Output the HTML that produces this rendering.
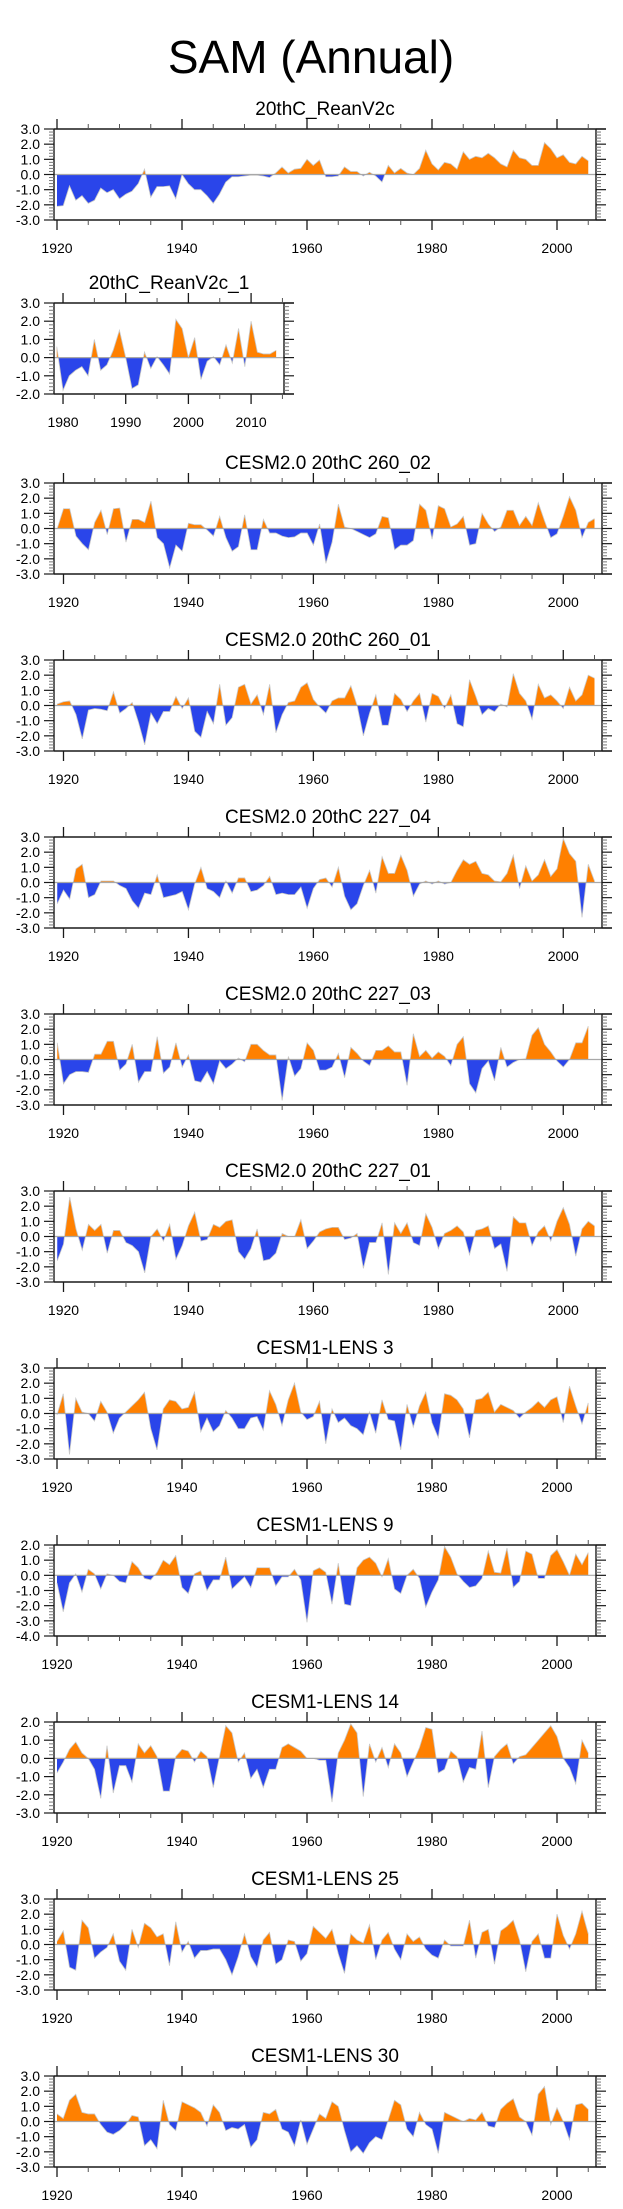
<!DOCTYPE html>
<html><head><meta charset="utf-8"><title>SAM (Annual)</title>
<style>
html,body{margin:0;padding:0;background:#fff;}
svg{display:block;font-family:"Liberation Sans",Arial,sans-serif;}
</style></head>
<body>
<svg id="fig" width="623" height="2209" viewBox="0 0 623 2209" xmlns="http://www.w3.org/2000/svg">
<text x="311" y="73" font-size="46" text-anchor="middle" fill="#000">SAM (Annual)</text>
</svg>
<script>
// ---- data arrays ----
const titles = ["20thC_ReanV2c","20thC_ReanV2c_1","CESM2.0 20thC 260_02","CESM2.0 20thC 260_01","CESM2.0 20thC 227_04","CESM2.0 20thC 227_03","CESM2.0 20thC 227_01","CESM1-LENS 3","CESM1-LENS 9","CESM1-LENS 14","CESM1-LENS 25","CESM1-LENS 30"];
const startYears = [1920,1979,1919,1919,1919,1919,1919,1920,1920,1920,1920,1920];
const yMins = [-3,-2,-3,-3,-3,-3,-3,-3,-4,-3,-3,-3];
const yMaxs = [3,3,3,3,3,3,3,3,2,2,3,3];
const s1 = [-2.1,-2.05,-0.75,-1.7,-1.4,-1.9,-1.7,-0.9,-1.2,-1.0,-1.6,-1.3,-1.1,-0.6,0.35,-1.5,-0.8,-0.8,-0.75,-1.6,0.0,-0.6,-1.0,-1.0,-1.4,-1.9,-1.3,-0.5,-0.15,-0.15,-0.1,-0.05,-0.05,-0.1,-0.2,0.1,0.5,0.1,0.35,0.4,1.0,0.6,0.95,-0.15,-0.15,-0.1,0.5,0.2,0.2,-0.1,0.15,-0.1,-0.5,0.6,0.1,0.4,0.1,0.0,0.4,1.6,0.7,0.3,0.8,0.7,0.35,1.5,1.0,1.2,1.1,1.4,1.1,0.7,0.5,1.6,1.1,1.0,0.6,0.6,2.1,1.7,1.1,1.3,0.8,0.7,1.2,0.9];
const s2 = [0.6,-1.8,-1.0,-0.7,-0.5,-1.0,1.0,-0.7,-0.4,0.4,1.5,0.0,-1.7,-1.5,0.3,-0.6,0.05,-0.4,-0.9,2.1,1.6,0.0,1.1,-1.2,-0.2,0.05,-0.4,0.7,-0.3,1.6,-0.5,2.0,0.3,0.2,0.2,0.4];
const s3 = [0.0,1.3,1.3,-0.5,-1.0,-1.4,0.4,1.2,-0.4,1.3,1.35,-0.9,0.6,0.6,0.4,1.8,-0.6,-1.0,-2.6,-1.1,-1.5,0.35,0.25,0.25,-0.1,-0.5,0.8,-0.6,-1.5,-1.2,0.9,-1.4,-1.4,0.6,-0.3,-0.3,-0.5,-0.6,-0.55,-0.3,-0.3,-1.1,0.3,-2.3,-0.9,1.6,0.1,0.0,-0.2,-0.4,-0.6,-0.35,0.8,0.7,-1.4,-1.1,-1.1,-0.8,1.6,1.2,-0.7,1.5,1.3,0.1,0.3,0.8,-1.1,-1.0,1.0,0.3,-0.2,0.1,1.2,1.2,0.2,0.8,0.2,1.7,0.5,-0.6,-0.35,0.8,2.1,1.2,-0.6,0.4,0.65];
const s4 = [0.1,0.25,0.3,-0.6,-2.2,-0.3,-0.2,-0.25,-0.35,0.9,-0.5,-0.2,0.2,-1.1,-2.6,-0.5,-1.2,-0.4,-0.4,0.6,-0.2,0.5,-1.7,-2.1,-0.4,-1.2,1.4,-1.3,-0.8,1.2,1.4,0.1,0.7,-0.6,1.4,-1.8,-0.6,0.2,0.3,1.2,1.5,0.4,-0.1,-0.5,0.3,0.5,0.5,1.3,0.0,-2.0,-0.5,0.7,-1.3,-1.3,0.8,0.4,-0.4,0.3,0.8,-1.1,0.8,0.6,-0.2,0.7,-1.2,-1.4,1.7,0.6,-0.6,-0.2,-0.4,0.1,-0.1,2.1,0.8,0.3,-0.9,1.4,0.5,0.7,0.3,-0.2,1.2,0.3,0.7,2.0,1.8];
const s5 = [-1.4,-0.5,-1.1,0.9,1.2,-1.0,-0.8,0.1,0.1,0.1,-0.2,-0.4,-1.2,-1.7,-0.7,-0.8,0.5,-1.0,-0.9,-0.8,-0.6,-1.8,-0.1,1.0,-0.4,-0.6,-1.0,0.1,-0.7,0.3,0.3,-0.6,-0.5,-0.2,0.4,-0.8,-0.7,-0.8,-0.8,-0.3,-1.7,-0.4,0.2,0.3,-0.3,1.0,-0.9,-1.8,-1.4,-0.2,0.8,-0.7,1.7,0.6,0.6,1.8,0.8,-0.9,-0.1,0.1,-0.1,0.1,-0.1,0.0,0.8,1.5,1.2,1.4,0.6,0.5,0.1,0.05,0.6,1.8,-0.4,1.1,0.1,0.5,1.5,0.4,0.9,2.9,1.9,1.4,-2.3,1.2,0.1];
const s6 = [1.1,-1.6,-1.0,-0.8,-0.8,-0.85,0.35,0.35,1.2,1.2,-0.7,-0.3,1.0,-1.5,-0.8,-0.8,1.5,-0.9,-0.5,1.1,-0.5,0.3,-1.4,-1.5,-0.8,-1.6,-0.1,-0.6,-0.3,0.1,-0.15,1.0,1.0,0.6,0.3,0.3,-2.7,0.2,-1.1,-0.6,1.1,0.6,-0.7,-0.7,-0.5,0.4,-1.2,0.8,0.4,-0.1,-0.4,0.6,0.6,0.9,0.5,0.5,-1.7,1.7,0.2,0.6,0.1,0.5,0.2,-0.4,1.0,1.5,-1.6,-2.2,-0.6,-0.1,-1.4,0.8,-0.5,-0.2,0.0,0.05,1.6,2.1,1.0,0.5,-0.1,-0.5,0.0,1.1,1.1,2.2];
const s7 = [-1.6,-0.5,2.6,0.5,-0.9,0.8,0.4,0.8,-1.1,0.4,0.4,-0.4,-0.6,-1.0,-2.4,0.0,0.5,-0.3,0.8,-1.5,-0.6,0.7,1.6,-0.3,-0.2,0.8,0.6,1.0,1.1,-1.0,-1.5,-0.8,0.5,-1.6,-1.5,-1.1,0.2,0.0,0.0,1.1,-0.8,-0.3,0.3,0.5,0.6,0.6,-0.2,-0.1,0.2,-2.1,-0.4,-0.4,0.9,-2.5,0.9,0.2,0.9,-0.4,-0.6,1.5,0.6,-0.8,0.2,0.4,0.7,0.3,-1.2,0.4,0.5,0.7,-0.8,-0.5,-2.3,1.3,0.9,0.9,-0.6,0.3,0.7,-0.3,1.0,1.9,0.8,-1.3,0.5,1.0,0.7];
const s8 = [-0.1,1.3,-2.7,1.0,0.1,0.0,-0.5,0.8,0.1,-1.3,-0.3,0.1,0.5,0.9,1.4,-1.0,-2.4,0.3,0.9,0.8,0.3,0.4,1.4,-1.2,-0.3,-1.2,-0.8,0.2,-0.3,-1.0,-1.0,-0.3,-0.2,-1.1,1.5,0.6,-0.8,0.9,2.0,0.1,-0.4,-0.2,0.8,-2.0,0.3,-0.6,-0.3,-0.8,-1.0,-1.4,0.1,-1.3,0.9,-0.4,-0.5,-2.4,0.6,-0.9,0.5,1.4,-0.6,-1.6,1.3,1.2,0.9,0.3,-1.6,0.9,1.0,1.4,0.1,0.6,0.4,0.2,-0.3,0.1,0.4,0.8,0.4,0.9,1.1,-0.6,1.8,0.5,-0.7,0.7];
const s9 = [-0.5,-2.4,-0.5,0.1,-1.1,0.4,0.1,-0.9,0.1,0.0,-0.4,-0.5,0.9,0.5,-0.2,-0.3,0.2,1.0,0.7,1.3,-0.8,-1.2,0.1,0.3,-1.0,-0.3,-0.3,1.2,-0.9,-0.5,-0.1,-0.8,0.5,0.5,0.5,-0.7,-0.1,-0.1,0.4,-0.3,-3.1,0.3,0.5,0.2,-1.9,0.8,-1.9,-2.0,0.5,1.0,1.2,0.8,-0.1,1.1,-0.9,-1.2,0.0,0.4,-0.2,-2.1,-1.1,-0.3,1.9,1.2,0.1,-0.4,-0.8,-0.7,-0.2,1.6,0.2,0.15,1.8,-0.8,-0.4,1.6,1.4,-0.2,-0.2,1.3,1.7,0.9,0.0,1.4,0.7,1.5];
const s10 = [-0.8,-0.2,0.5,0.9,0.3,0.0,-0.6,-2.2,0.7,-1.9,-0.4,-0.4,-1.3,0.8,0.3,0.7,0.1,-1.8,-1.8,0.1,0.5,0.4,-0.2,0.4,0.1,-1.6,0.1,1.8,1.4,-0.2,0.3,-1.1,-0.6,-1.6,-0.6,-0.6,0.6,0.8,0.6,0.4,0.0,0.0,-0.1,-0.1,-2.4,0.3,1.0,1.9,1.4,-2.1,0.8,-0.2,0.6,-0.5,0.8,0.3,-1.0,-0.2,0.6,1.7,1.6,-0.8,-0.6,0.4,0.1,-1.3,-0.5,-0.6,1.5,-1.6,0.1,0.5,0.8,-0.3,0.1,0.2,0.6,1.0,1.4,1.8,1.2,0.0,-0.5,-1.4,1.0,0.3];
const s11 = [0.2,0.9,-1.5,-1.7,1.6,1.1,-0.9,-0.5,-0.2,0.7,-1.1,-1.7,1.0,-0.2,1.4,1.1,0.5,0.7,-1.4,1.5,-0.5,0.2,-0.9,-0.4,-0.4,-0.3,-0.3,-1.0,-2.0,-0.8,0.7,-0.8,-1.5,0.3,0.8,-1.3,-1.0,0.3,0.2,-1.1,-0.6,1.2,0.8,0.4,1.0,-0.6,-1.9,0.7,0.3,0.1,1.3,-1.0,0.3,0.8,-0.3,-1.0,0.7,0.2,0.5,-0.3,-0.7,-0.9,0.3,-0.1,-0.1,-0.1,1.6,-0.9,0.8,1.0,-1.3,0.9,1.2,1.6,0.3,-1.8,0.2,0.7,-0.9,-0.9,2.0,0.6,-0.3,0.7,2.2,0.7];
const s12 = [0.5,0.2,1.4,1.8,0.6,0.5,0.5,-0.2,-0.7,-0.85,-0.6,-0.2,0.4,0.3,-1.6,-1.2,-1.8,1.4,-0.2,-0.6,1.3,1.1,0.9,0.6,-0.3,1.1,0.6,-0.6,-0.4,-0.5,-0.2,-1.7,-1.2,0.6,0.5,0.8,-0.5,-0.7,-1.6,0.1,-1.5,-0.5,0.5,0.2,1.3,1.0,-0.6,-2.0,-1.6,-2.1,-1.4,-1.0,-1.2,0.1,1.4,1.1,-0.5,-1.0,0.6,-0.2,-0.5,-2.1,0.6,0.4,0.2,0.0,0.2,0.1,0.6,-0.3,-0.4,0.8,1.2,1.5,0.3,0.0,-0.9,1.8,2.3,-0.2,0.9,0.0,-1.2,1.1,1.2,0.8];
const series = [s1,s2,s3,s4,s5,s6,s7,s8,s9,s10,s11,s12];

// ---- layout ----
const NS = "http://www.w3.org/2000/svg";
const svg = document.getElementById("fig");
const boxH = 91;
const tops = [129,303,483,660,837,1014,1191,1368,1545,1722,1899,2076];
function mk(tag, attrs, parent){
  const e = document.createElementNS(NS, tag);
  for (const k in attrs) e.setAttribute(k, attrs[k]);
  (parent||svg).appendChild(e);
  return e;
}
function layoutFor(i){
  if (i === 1) return {left:54,right:284,xMin:1978.56,xMax:2015.25,major:10,minor:5};
  if (i >= 2 && i <= 6) return {left:54,right:602,xMin:1918.48,xMax:2006.2,major:20,minor:5};
  return {left:54,right:596,xMin:1919.52,xMax:2006.24,major:20,minor:5};
}
const AX = "#1a1a1a";
series.forEach((vals, i) => {
  const L = layoutFor(i);
  const top = tops[i], bot = top + boxH;
  const ymin = yMins[i], ymax = yMaxs[i];
  const xs = yr => L.left + (yr - L.xMin) / (L.xMax - L.xMin) * (L.right - L.left);
  const ys = v => bot - (v - ymin) / (ymax - ymin) * boxH;
  const g = mk("g", {});
  
  
  const t = mk("text", {x:(L.left+L.right)/2, y:top-14, "font-size":19, "text-anchor":"middle", fill:"#000"}, g);
  t.textContent = titles[i];
  
  

  const y0 = ys(0);
  let pts = [];
  vals.forEach((v, k) => pts.push([xs(startYears[i] + k), ys(v)]));
  const poly = "M" + pts[0][0].toFixed(2) + "," + y0.toFixed(2) + " " + pts.map(p => "L" + p[0].toFixed(2) + "," + p[1].toFixed(2)).join(" ") + " L" + pts[pts.length-1][0].toFixed(2) + "," + y0.toFixed(2) + "Z";
  const cidA = "ca" + i, cidB = "cb" + i;
  const defs = mk("defs", {}, g);
  const cA = mk("clipPath", {id:cidA}, defs);
  mk("rect", {x:0, y:top, width:623, height:y0-top}, cA);
  const cB = mk("clipPath", {id:cidB}, defs);
  mk("rect", {x:0, y:y0, width:623, height:bot-y0}, cB);
  const pa = mk("path", {d:poly, fill:"#ff8000", "clip-path":"url(#"+cidA+")"}, g);
  
  
  const pb = mk("path", {d:poly, fill:"#2a45ea", "clip-path":"url(#"+cidB+")"}, g);
  
  
  const ln = mk("polyline", {points: pts.map(p => p[0].toFixed(2)+","+p[1].toFixed(2)).join(" "), fill:"none", stroke:"#c8c8c8", "stroke-width":0.8}, g);
  
  
  const zl = mk("line", {x1:L.left, x2:L.right, y1:y0, y2:y0, stroke:"#a8a8a8", "stroke-width":1.2}, g);
  
  

  const ext = L.right + 10;
  mk("line", {x1:L.left, x2:ext, y1:top, y2:top, stroke:AX, "stroke-width":1.4}, g);
  mk("line", {x1:L.left, x2:ext, y1:bot, y2:bot, stroke:AX, "stroke-width":1.4}, g);
  mk("line", {x1:L.left, x2:L.left, y1:top, y2:bot, stroke:AX, "stroke-width":1.4}, g);
  mk("line", {x1:L.right, x2:L.right, y1:top, y2:bot, stroke:AX, "stroke-width":1.4}, g);

  for (let v = ymin; v <= ymax + 1e-9; v += 0.2) {
    const vv = Math.round(v*10)/10;
    const isMaj = Math.abs(vv - Math.round(vv)) < 1e-6;
    const y = ys(vv);
    const len = isMaj ? 10 : 5;
    mk("line", {x1:L.left-len, x2:L.left, y1:y, y2:y, stroke:isMaj?AX:"#777", "stroke-width":isMaj?1.2:1}, g);
    mk("line", {x1:L.right, x2:L.right+len, y1:y, y2:y, stroke:isMaj?AX:"#777", "stroke-width":isMaj?1.2:1}, g);
    if (isMaj) {
      const tl = mk("text", {x:40, y:y+5, "font-size":14, "text-anchor":"end", fill:"#000"}, g);
      tl.textContent = vv.toFixed(1);
      
      
    }
  }
  const y0yr = Math.ceil(L.xMin / L.minor) * L.minor;
  for (let yr = y0yr; yr <= L.xMax; yr += L.minor) {
    const x = xs(yr);
    const isMaj = yr % L.major === 0;
    const len = isMaj ? 10 : 5;
    mk("line", {x1:x, x2:x, y1:top-len, y2:top, stroke:isMaj?AX:"#555", "stroke-width":isMaj?1.3:1}, g);
    mk("line", {x1:x, x2:x, y1:bot, y2:bot+len, stroke:isMaj?AX:"#555", "stroke-width":isMaj?1.3:1}, g);
    if (isMaj) {
      const xl = mk("text", {x:x, y:bot+33, "font-size":14, "text-anchor":"middle", fill:"#000"}, g);
      xl.textContent = String(yr);
      
      
    }
  }
});
</script>
</body></html>
